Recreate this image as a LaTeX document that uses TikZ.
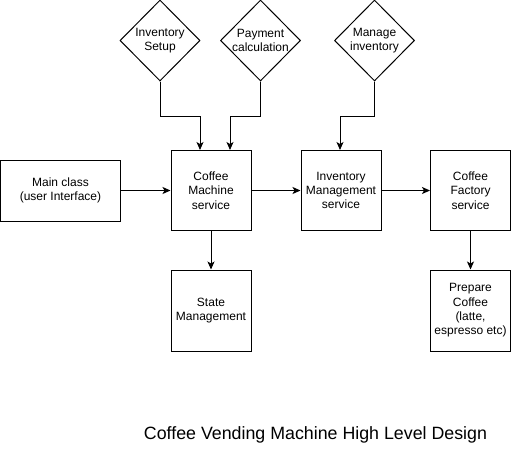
\documentclass[tikz,border=0pt]{standalone}
\usepackage{fontspec}
\setmainfont{Liberation Sans}
\usetikzlibrary{shapes.geometric,arrows.meta}
\begin{document}
\begin{tikzpicture}[x=1pt,y=-1pt,
  box/.style={draw,line width=1pt,minimum width=80pt,minimum height=80pt,inner sep=0pt,align=center,font=\fontsize{12}{14.4}\selectfont},
  dia/.style={draw,diamond,line width=1pt,minimum width=80pt,minimum height=81pt,inner sep=0pt},
  lbl/.style={align=center,font=\fontsize{12}{14.4}\selectfont,inner sep=0pt},
  arr/.style={line width=1pt,-{Stealth[length=8pt,width=7pt,inset=2pt]}}]
\useasboundingbox (0,0) rectangle (511,451);
% diamonds
\node[dia] (d1) at (160,40.5) {};
\node[lbl] (t1) at (d1.center) {Inventory\\Setup};
\node[dia] (d2) at (260.5,40.5) {};
\node[lbl] (t2) at (d2.center) {Payment\\calculation};
\node[dia] (d3) at (374.5,40.5) {};
\node[lbl] (t3) at (d3.center) {Manage\\inventory};
% boxes
\node[box,minimum width=120pt,minimum height=61pt] (mc) at (60.5,190.5) {Main class\\(user Interface)};
\node[box] (cm) at (211,190.5) {Coffee\\Machine\\service};
\node[box] (im) at (341,190.5) {Inventory\\Management\\service};
\node[box] (cf) at (470.5,190.5) {Coffee\\Factory\\service};
\node[box,minimum height=81pt] (sm) at (211,310.5) {State\\Management};
\node[box,minimum height=81pt] (pc) at (470.5,310.5) {Prepare\\Coffee\\(latte,\\espresso etc)};
% title
\node[inner sep=0pt,font=\fontsize{17.8}{20}\selectfont] (title) at (315.5,435) {Coffee Vending Machine High Level Design};
% connectors
\draw[arr] (d1.south) -- ++(0,35) -| ([xshift=-11pt]cm.north);
\draw[arr] (d2.south) -- ++(0,35) -| ([xshift=19pt]cm.north);
\draw[arr] (d3.south) -- ++(0,35) -| ([xshift=-1pt]im.north);
\draw[arr] (mc.east) -- (cm.west);
\draw[arr] (cm.east) -- (im.west);
\draw[arr] (im.east) -- (cf.west);
\draw[arr] (cm.south) -- (sm.north);
\draw[arr] (cf.south) -- (pc.north);
\end{tikzpicture}
\end{document}
